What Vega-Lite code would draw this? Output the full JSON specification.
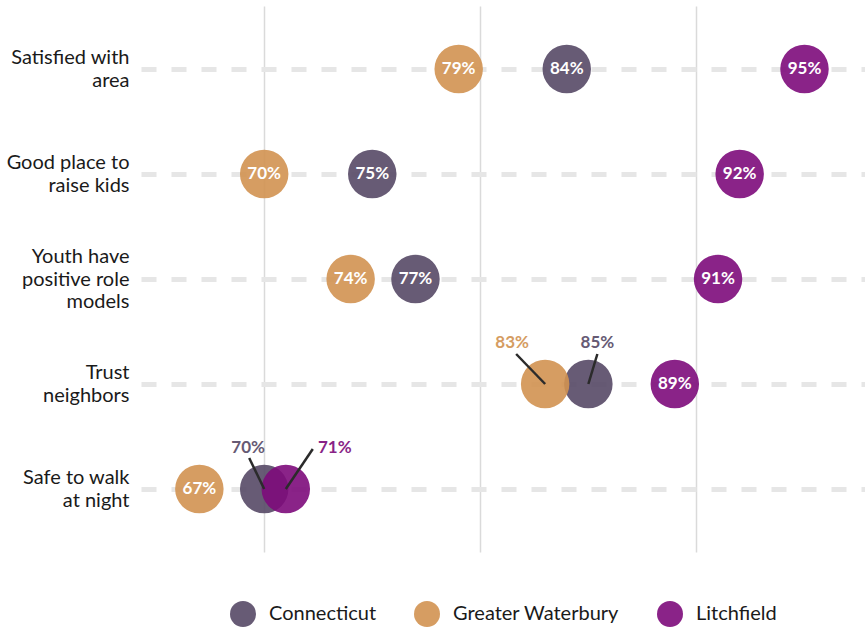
{
  "$schema": "https://vega.github.io/schema/vega-lite/v6.json",
  "width": 724,
  "height": 546,
  "autosize": {"type": "none"},
  "padding": {"left": 141, "top": 6, "right": 0, "bottom": 76},
  "background": "white",
  "config": {
    "view": {"stroke": null},
    "font": "Lato",
    "legend": {"layout": {"bottom": {"anchor": "middle"}}}
  },
  "data": {
    "values": [
      {"item": "Satisfied with|area", "region": "Connecticut", "value": 0.84},
      {"item": "Satisfied with|area", "region": "Greater Waterbury", "value": 0.79},
      {"item": "Satisfied with|area", "region": "Litchfield", "value": 0.95},
      {"item": "Good place to|raise kids", "region": "Connecticut", "value": 0.75},
      {"item": "Good place to|raise kids", "region": "Greater Waterbury", "value": 0.70},
      {"item": "Good place to|raise kids", "region": "Litchfield", "value": 0.92},
      {"item": "Youth have|positive role|models", "region": "Connecticut", "value": 0.77},
      {"item": "Youth have|positive role|models", "region": "Greater Waterbury", "value": 0.74},
      {"item": "Youth have|positive role|models", "region": "Litchfield", "value": 0.91},
      {"item": "Trust|neighbors", "region": "Connecticut", "value": 0.85},
      {"item": "Trust|neighbors", "region": "Greater Waterbury", "value": 0.83},
      {"item": "Trust|neighbors", "region": "Litchfield", "value": 0.89},
      {"item": "Safe to walk|at night", "region": "Connecticut", "value": 0.70},
      {"item": "Safe to walk|at night", "region": "Greater Waterbury", "value": 0.67},
      {"item": "Safe to walk|at night", "region": "Litchfield", "value": 0.71}
    ]
  },
  "encoding": {
    "y": {
      "field": "item",
      "type": "nominal",
      "sort": ["Satisfied with|area", "Good place to|raise kids", "Youth have|positive role|models", "Trust|neighbors", "Safe to walk|at night"],
      "scale": {"type": "point", "padding": 0.6},
      "axis": {
        "title": null,
        "ticks": false,
        "domain": false,
        "grid": true,
        "gridDash": [15, 15],
        "gridWidth": 5,
        "gridColor": "#e6e6e6",
        "labelExpr": "split(datum.label, '|')",
        "labelFontSize": 20,
        "labelLineHeight": 22.5,
        "labelPadding": 12,
        "labelColor": "#1a1a1a",
        "labelAlign": "right",
        "labelBaseline": "middle",
        "labelOffset": {"condition": {"test": "datum.value == 'Youth have|positive role|models'", "value": -22.5}, "value": -11.25}
      }
    },
    "x": {
      "field": "value",
      "type": "quantitative",
      "scale": {"domain": [0.643, 0.978], "nice": false, "zero": false},
      "axis": {
        "title": null,
        "values": [0.7, 0.8, 0.9],
        "labels": false,
        "ticks": false,
        "domain": false,
        "grid": true,
        "gridColor": "#dadada",
        "gridWidth": 1.5
      }
    }
  },
  "layer": [
    {
      "mark": {"type": "circle", "size": 2350, "opacity": 0.9},
      "encoding": {
        "color": {
          "field": "region",
          "type": "nominal",
          "scale": {
            "domain": ["Connecticut", "Greater Waterbury", "Litchfield"],
            "range": ["#564966", "#d19251", "#7d0b7b"]
          },
          "legend": {
            "orient": "bottom",
            "direction": "horizontal",
            "title": null,
            "offset": 48,
            "symbolType": "circle",
            "symbolSize": 676,
            "symbolOpacity": 0.9,
            "labelFontSize": 20,
            "labelLimit": 400,
            "labelColor": "#1a1a1a",
            "labelOffset": 12,
            "columnPadding": 36
          }
        }
      }
    },
    {
      "transform": [
        {"filter": "!((datum.item == 'Trust|neighbors' && datum.region != 'Litchfield') || (datum.item == 'Safe to walk|at night' && datum.region != 'Greater Waterbury'))"}
      ],
      "mark": {"type": "text", "color": "white", "fontWeight": "bold", "fontSize": 17, "baseline": "middle", "align": "center"},
      "encoding": {"text": {"field": "value", "type": "quantitative", "format": ".0%"}}
    },
    {
      "transform": [{"filter": "datum.item == 'Trust|neighbors' && datum.region == 'Greater Waterbury'"}],
      "mark": {"type": "rule", "color": "#2b2b2b", "strokeWidth": 2.5, "x2Offset": -29, "y2Offset": -30},
      "encoding": {"x2": {"field": "value"}, "y2": {"field": "item"}}
    },
    {
      "transform": [{"filter": "datum.item == 'Trust|neighbors' && datum.region == 'Greater Waterbury'"}],
      "mark": {"type": "text", "color": "#d19251", "opacity": 0.9, "fontWeight": "bold", "fontSize": 17, "baseline": "middle", "align": "center", "dx": -33, "dy": -41},
      "encoding": {"text": {"field": "value", "type": "quantitative", "format": ".0%"}}
    },
    {
      "transform": [{"filter": "datum.item == 'Trust|neighbors' && datum.region == 'Connecticut'"}],
      "mark": {"type": "rule", "color": "#2b2b2b", "strokeWidth": 2.5, "x2Offset": 9, "y2Offset": -30},
      "encoding": {"x2": {"field": "value"}, "y2": {"field": "item"}}
    },
    {
      "transform": [{"filter": "datum.item == 'Trust|neighbors' && datum.region == 'Connecticut'"}],
      "mark": {"type": "text", "color": "#564966", "opacity": 0.9, "fontWeight": "bold", "fontSize": 17, "baseline": "middle", "align": "center", "dx": 9, "dy": -41},
      "encoding": {"text": {"field": "value", "type": "quantitative", "format": ".0%"}}
    },
    {
      "transform": [{"filter": "datum.item == 'Safe to walk|at night' && datum.region == 'Connecticut'"}],
      "mark": {"type": "rule", "color": "#2b2b2b", "strokeWidth": 2.5, "x2Offset": -15, "y2Offset": -31},
      "encoding": {"x2": {"field": "value"}, "y2": {"field": "item"}}
    },
    {
      "transform": [{"filter": "datum.item == 'Safe to walk|at night' && datum.region == 'Connecticut'"}],
      "mark": {"type": "text", "color": "#564966", "opacity": 0.9, "fontWeight": "bold", "fontSize": 17, "baseline": "middle", "align": "center", "dx": -16, "dy": -41},
      "encoding": {"text": {"field": "value", "type": "quantitative", "format": ".0%"}}
    },
    {
      "transform": [{"filter": "datum.item == 'Safe to walk|at night' && datum.region == 'Litchfield'"}],
      "mark": {"type": "rule", "color": "#2b2b2b", "strokeWidth": 2.5, "x2Offset": 27, "y2Offset": -40},
      "encoding": {"x2": {"field": "value"}, "y2": {"field": "item"}}
    },
    {
      "transform": [{"filter": "datum.item == 'Safe to walk|at night' && datum.region == 'Litchfield'"}],
      "mark": {"type": "text", "color": "#7d0b7b", "opacity": 0.9, "fontWeight": "bold", "fontSize": 17, "baseline": "middle", "align": "center", "dx": 49, "dy": -41},
      "encoding": {"text": {"field": "value", "type": "quantitative", "format": ".0%"}}
    }
  ]
}
